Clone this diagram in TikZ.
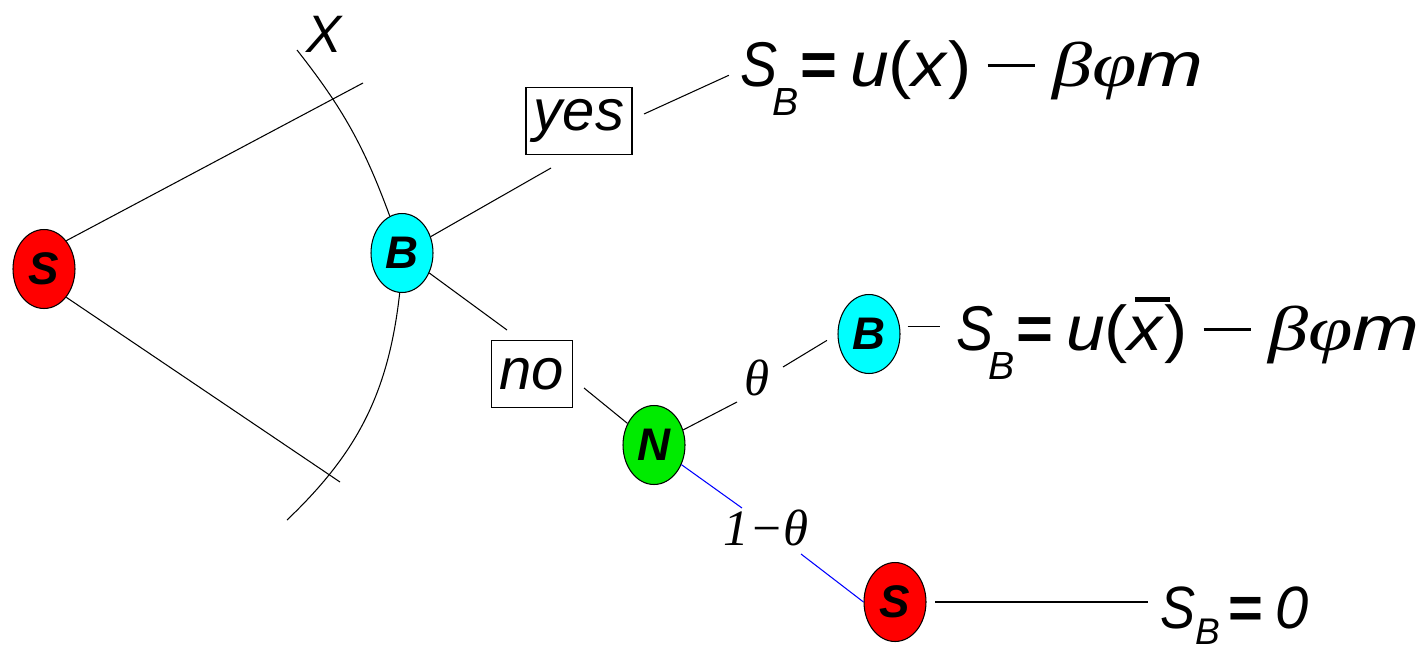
\documentclass[tikz,border=0pt]{standalone}
\usepackage{fontspec}
\setmainfont{Liberation Sans}
\newfontfamily\greekfont{Liberation Serif}
\usepackage{graphicx}
\usetikzlibrary{shapes.geometric}
\definecolor{sellerred}{RGB}{255,0,0}
\definecolor{buyercyan}{RGB}{0,255,255}
\definecolor{naturegreen}{RGB}{0,235,0}
\definecolor{chanceblue}{RGB}{0,0,255}
\newcommand{\fsize}[1]{\fontsize{#1}{#1}\selectfont}
% S with subscript B, lowered by #2
\newcommand{\SB}[2][-.08em]{\scalebox{.88}[1]{\textit{S}}\kern#1\raisebox{-#2}{\scalebox{.62}{\itshape B}}}
\newcommand{\xbar}{\makebox[0pt][l]{\kern.1em\rule[.76em]{.5em}{.08em}}\textit{x}}
\newcommand{\longminus}{\rule[.3em]{.74em}{.045em}}
% buyer's surplus, #1 is the quality
\newcommand{\surplus}[1]{%
  {\fsize{36pt}\SB{.47em}\kern.03em\textbf{=}\kern.2em%
   \scalebox{1.1}[1]{\textit{u}(#1)}\hspace{.25em}\longminus\hspace{.28em}%
   \scalebox{1.27}[1]{{\greekfont\itshape βφ}\textit{m}}}}
\tikzset{
  player node/.style={
    ellipse, draw=black, line width=0.6pt,
    minimum width=1.24cm, minimum height=1.58cm,
    inner sep=0pt, font=\fsize{26pt}\bfseries\itshape
  },
  choice box/.style={
    rectangle, draw=black, line width=0.6pt, fill=white,
    minimum height=1.34cm, inner sep=0pt, font=\fsize{33pt}\itshape
  },
  branch line/.style={black, line width=0.6pt},
  chance line/.style={chanceblue, line width=0.6pt},
  payoff label/.style={anchor=base west, inner sep=0pt, text depth=0pt},
  prob label/.style={inner sep=0pt, font=\fsize{29pt}\greekfont\itshape}
}

\begin{document}
\begin{tikzpicture}[x=0.02cm, y=-0.02cm]
  \useasboundingbox (0,0) rectangle (1423,653);
  % players
  \node[player node, fill=sellerred] (S1) at (44,269) {S};
  \node[player node, fill=buyercyan] (B1) at (402,253) {B};
  \node[player node, fill=naturegreen] (N) at (654,445) {N};
  \node[player node, fill=buyercyan] (B2) at (869,334) {B};
  \node[player node, fill=sellerred] (S2) at (895,602) {S};
  % labels on the branches
  \node[choice box, minimum width=2.12cm] (yes) at (579,121) {yes};
  \node[choice box, minimum width=1.62cm] (no) at (532,374) {no};
  \node[prob label] (theta) at (757,378) {θ};
  \node[prob label] (onetheta) at (766,528) {1−θ};
  \node[inner sep=0pt, font=\fsize{30pt}\itshape] (xlab) at (324,34) {X};
  % payoffs
  \node[payoff label, text height=18pt] (pay1) at (740,86) {\surplus{\textit{x}}};
  \node[payoff label, text height=27pt] (pay2) at (956,350) {\surplus{\xbar}};
  \node[payoff label, text height=22pt, font=\fsize{34pt}] (pay3) at (1160,628)
    {\SB[0pt]{.28em}\kern.14em\textbf{=}\hspace{.2em}\textit{0}};
  % free ends
  \coordinate (s1up) at (363,83);
  \coordinate (s1dn) at (340,482);
  \coordinate (xtop) at (297,50);
  \coordinate (xbot) at (287,520);
  \coordinate (yesin) at (551,168);
  \coordinate (yesout) at (644,114);
  \coordinate (noin) at (507,330);
  \coordinate (noout) at (584,388);
  \coordinate (thetain) at (737,402);
  \coordinate (thetaout) at (783,367);
  \coordinate (onein) at (742,508);
  \coordinate (oneout) at (801,554);
  % seller's offer
  \draw[branch line] (S1.north east) -- (s1up);
  \draw[branch line] (S1.south east) -- (s1dn);
  \draw[branch line] (xtop) to[bend left=9] (B1);
  \draw[branch line] (B1) to[bend left=20] (xbot);
  % buyer's answer
  \draw[branch line] (B1) -- (yesin);
  \draw[branch line, shorten >=7pt] (yesout) -- (pay1.west);
  \draw[branch line] (B1) -- (noin);
  \draw[branch line] (noout) -- (N);
  % nature
  \draw[branch line] (N) -- (thetain);
  \draw[branch line, shorten >=7pt] (thetaout) -- (B2.west);
  \draw[chance line] (N) -- (onein);
  \draw[chance line] (oneout) -- (S2.west);
  \draw[branch line, shorten <=4pt, shorten >=9pt] (pay2.west -| B2.east) -- (pay2.west);
  \draw[branch line, shorten <=5pt, shorten >=7pt] (S2) -- (S2 -| pay3.west);
\end{tikzpicture}
\end{document}
